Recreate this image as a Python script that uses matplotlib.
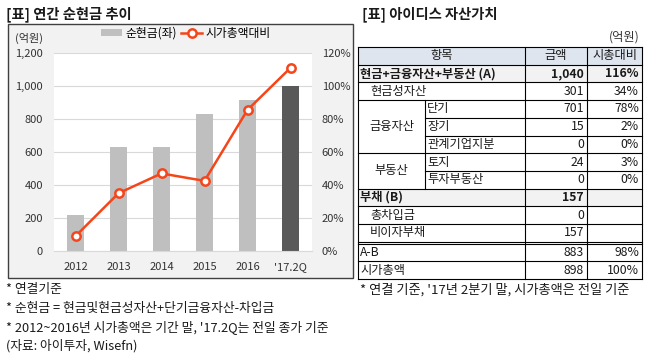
import matplotlib

matplotlib.use("Agg")
import matplotlib.pyplot as plt
from matplotlib.patches import Rectangle
from matplotlib.lines import Line2D

plt.rcParams["font.family"] = ["Noto Sans CJK KR", "DejaVu Sans"]

# ---- chart data ----
years = ["2012", "2013", "2014", "2015", "2016", "'17.2Q"]
net_cash = [220, 630, 630, 830, 915, 1000]
mcap_ratio = [0.09, 0.35, 0.47, 0.425, 0.855, 1.11]
y_ticks = [0, 200, 400, 600, 800, 1000, 1200]
y2_ticks = [0, 0.2, 0.4, 0.6, 0.8, 1.0, 1.2]

left_notes = [
    "* 연결기준",
    "* 순현금 = 현금및현금성자산+단기금융자산-차입금",
    "* 2012~2016년 시가총액은 기간 말, '17.2Q는 전일 종가 기준",
    "(자료: 아이투자, Wisefn)",
]

# ---- table data ----
header = ["항목", "금액", "시총대비"]
row_labels = ["현금+금융자산+부동산 (A)", "현금성자산", "단기", "장기", "관계기업지분",
              "토지", "투자부동산", "부채 (B)", "총차입금", "비이자부채", "A-B", "시가총액"]
amounts = [1040, 301, 701, 15, 0, 24, 0, 157, 0, 157, 883, 898]
ratios = [116, 34, 78, 2, 0, 3, 0, None, None, None, 98, 100]
groups = {"금융자산": (2, 4), "부동산": (5, 6)}
right_note = "* 연결 기준, '17년 2분기 말, 시가총액은 전일 기준"

W, H = 647, 355
LINE_COLOR = "#f4461a"
TEXT = "#1a1a1a"
FS = 8.8

fig = plt.figure(figsize=(W / 100, H / 100), dpi=100)

# pixel canvas for the frame, titles, notes and the table
canvas = fig.add_axes([0, 0, 1, 1], zorder=0)
canvas.set_xlim(0, W)
canvas.set_ylim(H, 0)
canvas.axis("off")


def fig_rect(x0, y0, x1, y1):
    return [x0 / W, 1 - y1 / H, (x1 - x0) / W, (y1 - y0) / H]


# chart frame
canvas.add_patch(Rectangle((8, 24), 345, 254, facecolor="#f2f2f2",
                           edgecolor="#404040", lw=1.0))
canvas.text(6, 14, "[표] 연간 순현금 추이", fontsize=10.3, fontweight="bold",
            va="center", ha="left", color=TEXT)
canvas.text(15, 38, "(억원)", fontsize=8, va="center", ha="left", color="#333333")
for i, note in enumerate(left_notes):
    canvas.text(6, 289 + i * 19, note, fontsize=9.2, va="center", ha="left", color=TEXT)

# ---- chart ----
ax = fig.add_axes(fig_rect(54, 53, 312, 251), zorder=1)
ax.set_facecolor("white")
x = list(range(len(years)))
bar_colors = ["#bfbfbf"] * (len(years) - 1) + ["#595959"]
ax.bar(x, net_cash, width=0.4, color=bar_colors, zorder=2)
ax.set_xlim(-0.5, len(years) - 0.5)
ax.set_ylim(0, 1200)
ax.set_yticks(y_ticks)
ax.set_yticklabels([f"{v:,}" for v in y_ticks])
ax.set_xticks(x)
ax.set_xticklabels(years)
ax.grid(axis="y", color="#d9d9d9", lw=0.8, zorder=0)
ax.set_axisbelow(True)
for s in ax.spines.values():
    s.set_visible(False)
ax.spines["bottom"].set_visible(True)
ax.spines["bottom"].set_color("#d9d9d9")
ax.tick_params(axis="both", length=0, labelsize=8, colors="#333333")
ax.tick_params(axis="y", pad=8)
ax.tick_params(axis="x", pad=8)

ax2 = ax.twinx()
ax2.plot(x, mcap_ratio, color=LINE_COLOR, lw=1.8, marker="o", markersize=6,
         markerfacecolor="white", markeredgecolor=LINE_COLOR, markeredgewidth=1.8,
         zorder=3)
ax2.set_ylim(0, 1.2)
ax2.set_yticks(y2_ticks)
ax2.set_yticklabels([f"{int(round(v * 100))}%" for v in y2_ticks])
for s in ax2.spines.values():
    s.set_visible(False)
ax2.tick_params(axis="y", length=0, labelsize=8, colors="#333333", pad=7)

# legend
handles = [
    Rectangle((0, 0), 1, 1, facecolor="#bfbfbf", edgecolor="none"),
    Line2D([], [], color=LINE_COLOR, lw=1.8, marker="o", markersize=6,
           markerfacecolor="white", markeredgecolor=LINE_COLOR, markeredgewidth=1.8),
]
fig.legend(handles, ["순현금(좌)", "시가총액대비"], loc="center",
           bbox_to_anchor=(186 / W, 1 - 33 / H), ncol=2, frameon=False,
           fontsize=8.5, handlelength=1.8, handleheight=0.5, columnspacing=0.3,
           handletextpad=0.3, borderpad=0)

# ---- table ----
canvas.text(362, 14, "[표] 아이디스 자산가치", fontsize=10.3, fontweight="bold",
            va="center", ha="left", color=TEXT)
canvas.text(640, 37, "(억원)", fontsize=FS, va="center", ha="right", color="#333333")

x0, xs, x1, x2, x3 = 358, 425, 525, 587, 642
top, rh, gap = 47, 17.7, 2.0
n = len(row_labels)


def row_top(i):
    # i = -1 is the header; rows after the double line are shifted by gap
    y = top + (i + 1) * rh
    if i >= 10:
        y += gap
    return y


def row_mid(i):
    return row_top(i) + rh / 2


# fills
canvas.add_patch(Rectangle((x0, row_top(-1)), x3 - x0, rh, facecolor="#dee5ee", lw=0))
for i in (0, 7):
    canvas.add_patch(Rectangle((x0, row_top(i)), x3 - x0, rh, facecolor="#f2f2f2", lw=0))

lw = 0.8
grouped = set()
for a, b in groups.values():
    grouped.update(range(a + 1, b + 1))
for i in range(-1, n + 1):
    y = row_top(i)
    if i in grouped:
        canvas.plot([xs, x3], [y, y], color="black", lw=lw)
    else:
        canvas.plot([x0, x3], [y, y], color="black", lw=lw)
canvas.plot([x0, x3], [row_top(10) - gap] * 2, color="black", lw=lw)

bottom = row_top(n)
for xv in (x0, x1, x2, x3):
    canvas.plot([xv, xv], [top, bottom], color="black", lw=lw)
canvas.plot([xs, xs], [row_top(2), row_top(7)], color="black", lw=lw)

# header text
canvas.text((x0 + x1) / 2, row_mid(-1), header[0], fontsize=FS, ha="center", va="center", color=TEXT)
canvas.text((x1 + x2) / 2, row_mid(-1), header[1], fontsize=FS, ha="center", va="center", color=TEXT)
canvas.text((x2 + x3) / 2, row_mid(-1), header[2], fontsize=FS, ha="center", va="center", color=TEXT)

bold_rows = {0, 7}
indent_rows = {1, 8, 9}
for i, (label, amt, r) in enumerate(zip(row_labels, amounts, ratios)):
    weight = "bold" if i in bold_rows else "normal"
    if i in grouped or i in (2, 5):
        lx = xs + 2
    elif i in indent_rows:
        lx = 370
    else:
        lx = x0 + 2
    ym = row_mid(i)
    canvas.text(lx, ym, label, fontsize=FS, fontweight=weight, ha="left", va="center", color=TEXT)
    canvas.text(x2 - 3, ym, f"{amt:,}", fontsize=FS, fontweight=weight, ha="right", va="center", color=TEXT)
    if r is not None:
        canvas.text(x3 - 3, ym, f"{r}%", fontsize=FS, fontweight=weight, ha="right", va="center", color=TEXT)

for name, (a, b) in groups.items():
    ym = (row_top(a) + row_top(b + 1)) / 2
    canvas.text((x0 + xs) / 2, ym, name, fontsize=FS, ha="center", va="center", color=TEXT)

canvas.text(360, 290, right_note, fontsize=9.5, ha="left", va="center", color=TEXT)

fig.savefig("out.png", dpi=100)
